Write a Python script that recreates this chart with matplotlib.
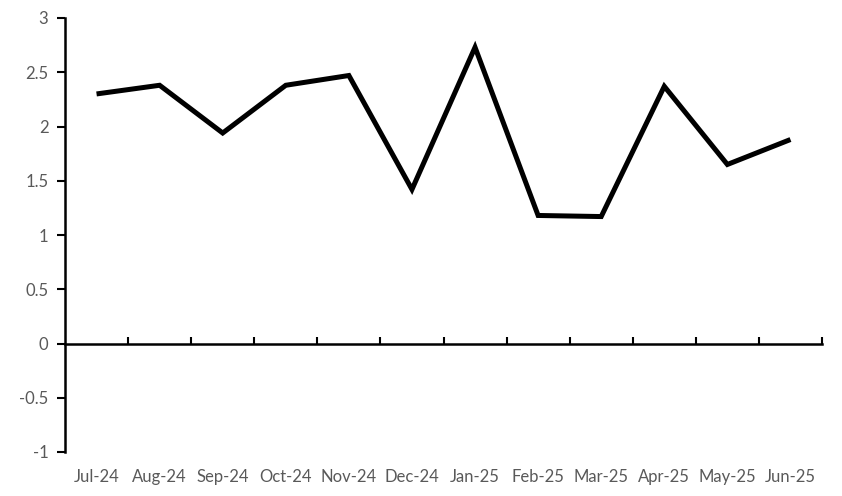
import matplotlib
matplotlib.use("Agg")
import matplotlib.pyplot as plt
import numpy as np

categories = ["Jul-24", "Aug-24", "Sep-24", "Oct-24", "Nov-24", "Dec-24",
              "Jan-25", "Feb-25", "Mar-25", "Apr-25", "May-25", "Jun-25"]
values = [2.30, 2.38, 1.94, 2.38, 2.47, 1.42, 2.73, 1.18, 1.17, 2.37, 1.65, 1.88]
yticks = [-1, -0.5, 0, 0.5, 1, 1.5, 2, 2.5, 3]
ytick_labels = ["-1", "-0.5", "0", "0.5", "1", "1.5", "2", "2.5", "3"]

plt.rcParams['font.family'] = ['Lato', 'DejaVu Sans']
label_color = "#595959"

fig = plt.figure(figsize=(8.42, 4.96), dpi=100)
ax = fig.add_axes([65/842, 1-452/496, (822-65)/842, (452-18)/496])

x = np.arange(len(categories))
ax.plot(x, values, color="black", linewidth=3.6, solid_joinstyle="miter", solid_capstyle="butt")

ax.set_xlim(-0.5, len(categories) - 0.5)
ax.set_ylim(-1, 3)

for s in ["top", "right", "bottom"]:
    ax.spines[s].set_visible(False)
ax.spines["left"].set_linewidth(1.8)
ax.spines["left"].set_color("black")

ax.set_yticks(yticks)
ax.set_yticklabels(ytick_labels)
ax.tick_params(axis="y", direction="out", length=6, width=1.5, color="black",
               labelcolor=label_color, labelsize=12, pad=6)

ax.set_xticks(x)
ax.set_xticklabels(categories)
ax.tick_params(axis="x", length=0, labelcolor=label_color, labelsize=12, pad=12)

# zero line with boundary tick marks
zero_pos = (0 - (-1)) / (3 - (-1))
sec = ax.secondary_xaxis(zero_pos)
sec.spines["bottom"].set_linewidth(1.8)
sec.spines["bottom"].set_color("black")
sec.set_xticks(np.arange(0.5, len(categories), 1.0))
sec.tick_params(axis="x", direction="in", length=5, width=1.5, color="black", labelbottom=False)

fig.savefig("out.png", dpi=100)
